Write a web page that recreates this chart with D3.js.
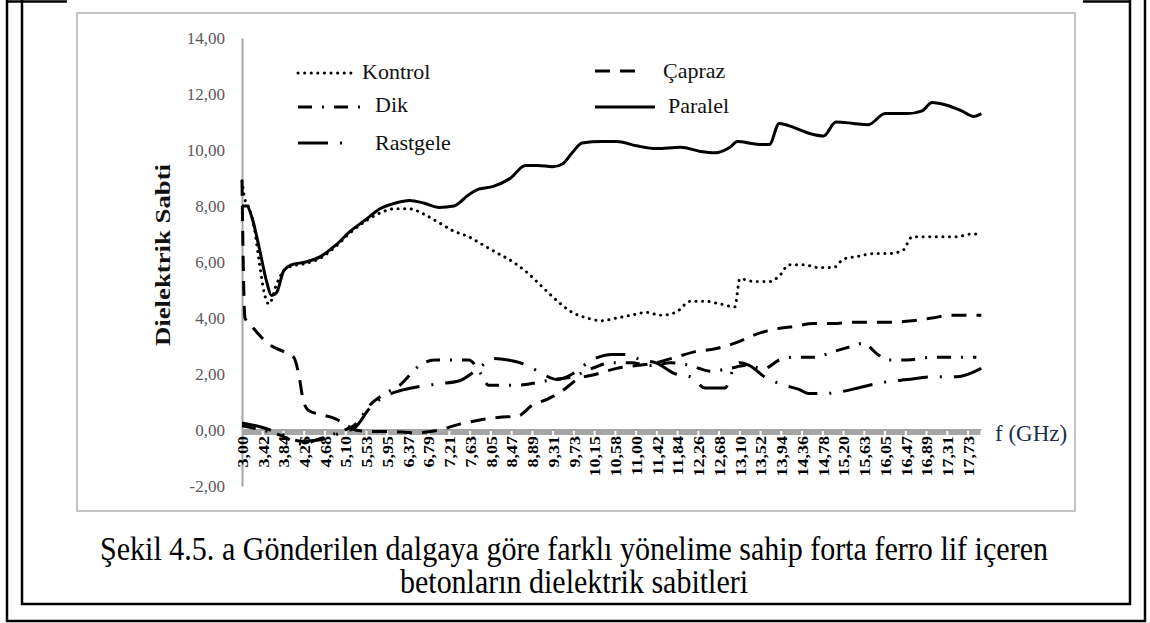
<!DOCTYPE html>
<html lang="tr">
<head>
<meta charset="UTF-8">
<title>Dielektrik Sabti</title>
<script src="https://cdn.jsdelivr.net/npm/d3@7"></script>
<style>
  body { margin: 0; background: #fff; }
  svg text { font-family: "Liberation Serif", "Times New Roman", Times, serif; }
</style>
</head>
<body>
<svg id="chart" width="1150" height="623"></svg>
<script>
// category labels shown under the x axis (GHz)
const xLabels = ['3,00','3,42','3,84','4,26','4,68','5,10','5,53','5,95','6,37','6,79','7,21','7,63',
  '8,05','8,47','8,89','9,31','9,73','10,15','10,58','11,00','11,42','11,84','12,26','12,68',
  '13,10','13,52','13,94','14,36','14,78','15,20','15,63','16,05','16,47','16,89','17,31','17,73'];
const yTicks = [-2, 0, 2, 4, 6, 8, 10, 12, 14];

// [f (GHz), dielectric constant]
const kontrol = [[3.00,8.9],[3.05,8.3],[3.15,7.9],[3.25,7.2],[3.35,6.0],[3.45,4.9],[3.55,4.5],[3.7,5.2],
  [3.85,5.7],[4.0,5.85],[4.3,5.95],[4.6,6.15],[4.9,6.55],[5.2,7.05],[5.5,7.45],[5.8,7.75],[6.1,7.9],
  [6.4,7.9],[6.7,7.7],[7.0,7.4],[7.3,7.1],[7.6,6.9],[7.9,6.6],[8.2,6.3],[8.5,6.0],[8.8,5.6],[9.1,5.1],
  [9.4,4.6],[9.7,4.2],[10.0,4.0],[10.3,3.9],[10.6,4.0],[10.9,4.1],[11.2,4.2],[11.5,4.1],[11.8,4.2],
  [12.1,4.6],[12.4,4.6],[12.7,4.5],[13.0,4.4],[13.1,5.4],[13.4,5.3],[13.7,5.3],[13.9,5.5],[14.1,5.9],
  [14.4,5.9],[14.7,5.8],[15.0,5.8],[15.2,6.1],[15.5,6.2],[15.8,6.3],[16.1,6.3],[16.4,6.4],[16.6,6.9],
  [16.9,6.9],[17.2,6.9],[17.5,6.9],[17.8,7.0],[18.0,7.0]];
const capraz = [[3.00,8.9],[3.03,5.5],[3.06,4.0],[3.2,3.7],[3.4,3.3],[3.6,3.0],[3.85,2.8],[4.05,2.6],
  [4.15,2.0],[4.25,1.0],[4.35,0.7],[4.6,0.55],[4.9,0.4],[5.1,0.2],[5.3,0.0],[5.6,-0.05],[6.0,-0.05],
  [6.5,-0.1],[7.0,0.0],[7.4,0.2],[7.8,0.35],[8.2,0.45],[8.6,0.5],[8.9,0.9],[9.2,1.1],[9.5,1.4],
  [9.8,1.8],[10.2,2.0],[10.6,2.2],[11.0,2.3],[11.4,2.4],[11.8,2.6],[12.2,2.8],[12.6,2.9],[13.0,3.1],
  [13.4,3.4],[13.8,3.6],[14.2,3.7],[14.6,3.8],[15.0,3.8],[15.4,3.85],[15.8,3.85],[16.2,3.85],
  [16.6,3.9],[17.0,4.0],[17.4,4.1],[17.8,4.1],[18.0,4.1]];
const dik = [[3.0,0.15],[3.4,0.0],[3.8,-0.2],[4.2,-0.5],[4.6,-0.3],[5.0,-0.05],[5.3,0.2],[5.6,0.9],
  [5.9,1.3],[6.2,1.6],[6.6,2.3],[6.9,2.5],[7.2,2.5],[7.6,2.5],[7.85,2.0],[8.0,1.6],[8.6,1.6],
  [9.0,1.7],[9.3,1.8],[9.7,1.9],[10.1,2.2],[10.5,2.4],[10.9,2.4],[11.3,2.3],[11.7,2.4],[12.1,2.3],
  [12.5,2.1],[12.9,2.2],[13.2,2.3],[13.6,2.2],[13.9,2.5],[14.2,2.6],[14.6,2.6],[15.0,2.8],[15.4,3.0],
  [15.6,3.1],[15.9,2.7],[16.1,2.5],[16.5,2.5],[17.0,2.6],[17.5,2.6],[17.9,2.6]];
const rastgele = [[3.0,0.25],[3.4,0.1],[3.8,-0.15],[4.2,-0.4],[4.6,-0.35],[5.0,-0.1],[5.3,0.1],
  [5.6,0.8],[5.9,1.2],[6.2,1.4],[6.6,1.55],[7.0,1.65],[7.4,1.75],[7.8,2.2],[8.1,2.55],[8.4,2.5],
  [8.8,2.3],[9.1,2.0],[9.4,1.8],[9.7,2.0],[10.1,2.5],[10.5,2.7],[10.8,2.7],[11.1,2.5],[11.4,2.4],
  [11.8,2.0],[12.1,1.9],[12.4,1.5],[12.8,1.5],[13.0,2.3],[13.1,2.4],[13.3,2.3],[13.6,1.9],[14.0,1.6],
  [14.3,1.45],[14.5,1.3],[14.8,1.3],[15.1,1.35],[15.5,1.5],[16.0,1.7],[16.5,1.8],[17.0,1.9],
  [17.5,1.9],[18.0,2.2]];
const paralel = [[3.00,8.0],[3.1,8.0],[3.2,7.6],[3.35,6.5],[3.5,5.3],[3.6,4.8],[3.7,4.9],[3.85,5.7],
  [4.0,5.9],[4.3,6.0],[4.6,6.2],[4.9,6.6],[5.2,7.1],[5.5,7.5],[5.8,7.9],[6.1,8.1],[6.4,8.2],[6.7,8.1],
  [7.0,7.95],[7.3,8.0],[7.6,8.4],[7.8,8.6],[8.1,8.7],[8.45,9.0],[8.75,9.45],[9.0,9.45],[9.3,9.4],
  [9.5,9.5],[9.7,9.9],[9.9,10.25],[10.3,10.3],[10.6,10.3],[11.0,10.15],[11.4,10.05],[11.9,10.1],
  [12.3,9.95],[12.6,9.9],[12.9,10.1],[13.05,10.3],[13.5,10.2],[13.7,10.2],[13.9,10.95],[14.2,10.8],
  [14.5,10.6],[14.8,10.5],[15.05,11.0],[15.4,10.95],[15.7,10.9],[16.05,11.3],[16.5,11.3],[16.8,11.4],
  [17.0,11.7],[17.3,11.6],[17.6,11.4],[17.85,11.2],[18.0,11.3]];

const series = [
  { name: 'Kontrol',  data: kontrol,  dash: '0.1 6.5', cap: 'round' },
  { name: 'Çapraz',   data: capraz,   dash: '15 10',   cap: 'butt' },
  { name: 'Dik',      data: dik,      dash: '14 10 2 10', cap: 'butt' },
  { name: 'Paralel',  data: paralel,  dash: null,      cap: 'butt' },
  { name: 'Rastgele', data: rastgele, dash: '30 12 2 12', cap: 'butt' }
];

const serif = '"Liberation Serif", "Times New Roman", Times, serif';
const svg = d3.select('#chart');

// page frames (cropped document)
const frame = svg.append('g').attr('stroke', '#000').attr('stroke-width', 2.5).attr('fill', 'none');
frame.append('path').attr('d', 'M7,0 V621 H1145 V0');
frame.append('path').attr('d', 'M7,1.5 H67');
frame.append('path').attr('d', 'M22,0 V604 H1130 V0');
frame.append('path').attr('d', 'M1083,1.5 H1130');

// chart area border
svg.append('rect')
  .attr('x', 77).attr('y', 13).attr('width', 998).attr('height', 498)
  .attr('fill', 'none').attr('stroke', '#c4c4c4').attr('stroke-width', 2);

const x = d3.scaleLinear().domain([3, 17.73]).range([242, 968]);
const xCat = d3.scalePoint().domain(xLabels).range([242, 968]);
const y = d3.scaleLinear().domain([-2, 14]).range([486, 38]);
const xEnd = x(18);

// y axis
const yAxis = svg.append('g')
  .attr('transform', 'translate(242,0)')
  .call(d3.axisLeft(y).tickValues(yTicks).tickSize(0).tickPadding(17)
    .tickFormat(d => d.toFixed(2).replace('.', ',')));
yAxis.select('.domain').attr('stroke', '#a6a6a6').attr('stroke-width', 2);
yAxis.selectAll('text')
  .attr('font-family', serif)
  .attr('font-size', 17).attr('fill', '#595959');

// x axis at zero with a band of tick marks
const y0 = y(0);
const band = svg.append('g');
xLabels.forEach((d, i) => {
  const a = xCat(d);
  const b = i < xLabels.length - 1 ? xCat(xLabels[i + 1]) : xEnd;
  band.append('rect')
    .attr('x', a + 1).attr('y', y0).attr('width', b - a - 2).attr('height', 5)
    .attr('fill', '#a6a6a6');
});
svg.append('line')
  .attr('x1', 242).attr('x2', xEnd).attr('y1', y0).attr('y2', y0)
  .attr('stroke', '#a6a6a6').attr('stroke-width', 2);

const xAxis = svg.append('g')
  .attr('transform', `translate(0,${y0})`)
  .call(d3.axisBottom(xCat).tickSize(0));
xAxis.select('.domain').remove();
xAxis.selectAll('text')
  .attr('font-family', serif)
  .attr('font-size', 15).attr('font-weight', 'bold').attr('fill', '#000')
  .attr('text-anchor', 'end').attr('dy', '0.35em')
  .attr('transform', 'translate(0,6) rotate(-90) scale(1.2,1)')
  .attr('x', 0).attr('y', 0);

// series
const line = d3.line()
  .x(d => x(d[0])).y(d => y(d[1]))
  .curve(d3.curveMonotoneX);

series.forEach(s => {
  svg.append('path')
    .datum(s.data)
    .attr('d', line)
    .attr('fill', 'none')
    .attr('stroke', '#000')
    .attr('stroke-width', 3)
    .attr('stroke-linecap', s.cap)
    .attr('stroke-dasharray', s.dash);
});

// legend
const legend = [
  { s: series[0], x1: 298, x2: 352, ly: 73, tx: 362, ty: 79 },
  { s: series[2], x1: 298, x2: 360, ly: 107, tx: 375, ty: 112 },
  { s: series[4], x1: 298, x2: 348, ly: 143, tx: 375, ty: 150 },
  { s: series[1], x1: 595, x2: 640, ly: 71, tx: 663, ty: 78 },
  { s: series[3], x1: 595, x2: 655, ly: 107, tx: 668, ty: 113 }
];
const lg = svg.append('g');
legend.forEach(l => {
  lg.append('line')
    .attr('x1', l.x1).attr('x2', l.x2).attr('y1', l.ly).attr('y2', l.ly)
    .attr('stroke', '#000').attr('stroke-width', 3)
    .attr('stroke-linecap', l.s.cap)
    .attr('stroke-dasharray', l.s.dash);
  lg.append('text')
    .attr('x', l.tx).attr('y', l.ty)
    .attr('font-family', serif)
    .attr('font-size', 22).attr('fill', '#111')
    .text(l.s.name);
});

// axis titles
svg.append('text')
  .attr('transform', 'translate(170,255) rotate(-90)')
  .attr('text-anchor', 'middle')
  .attr('font-family', serif)
  .attr('font-size', 22).attr('font-weight', 'bold').attr('fill', '#111')
  .attr('textLength', 182).attr('lengthAdjust', 'spacingAndGlyphs')
  .text('Dielektrik Sabti');
svg.append('text')
  .attr('x', 995).attr('y', 441)
  .attr('font-family', serif)
  .attr('font-size', 23).attr('fill', '#1c2c4c')
  .text('f (GHz)');

// caption
svg.append('text')
  .attr('transform', 'translate(574,560) scale(1,1.1)')
  .attr('text-anchor', 'middle')
  .attr('font-family', serif)
  .attr('font-size', 30).attr('fill', '#000')
  .attr('textLength', 948).attr('lengthAdjust', 'spacingAndGlyphs')
  .text('Şekil 4.5. a Gönderilen dalgaya göre farklı yönelime sahip forta ferro lif içeren');
svg.append('text')
  .attr('transform', 'translate(574,593) scale(1,1.1)')
  .attr('text-anchor', 'middle')
  .attr('font-family', serif)
  .attr('font-size', 30).attr('fill', '#000')
  .text('betonların dielektrik sabitleri');
</script>
</body>
</html>
